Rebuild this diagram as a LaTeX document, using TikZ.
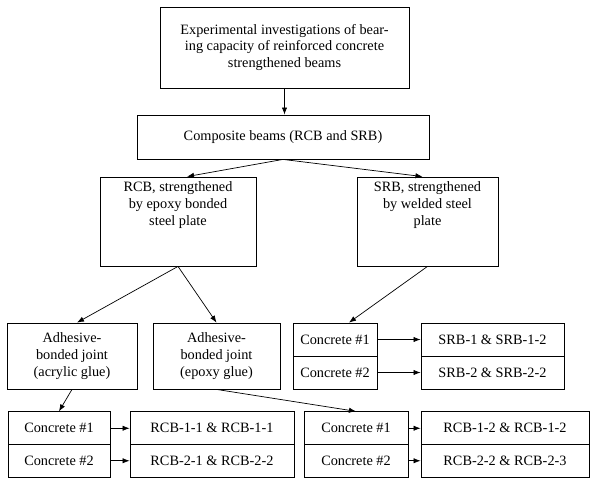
\documentclass[tikz,border=0pt]{standalone}
\usepackage{fontspec}
\setmainfont{Liberation Serif}
\usetikzlibrary{arrows.meta, positioning, calc}

\begin{document}
\begin{tikzpicture}[
  x=0.03cm, y=-0.03cm,
  box/.style={draw, line width=0.7pt, align=center, inner sep=2pt,
    font=\fontsize{12.2}{14.5}\selectfont},
  tall/.style={box, text depth=1.1cm, minimum height=2.67cm},
  cell/.style={box, minimum height=0.99cm},
  arr/.style={-{Latex[length=6pt, width=4.5pt]}, line width=0.6pt}
]
  \useasboundingbox (0,0) rectangle (592,478);

  % Top of the scheme
  \node[box, minimum width=7.47cm, minimum height=2.43cm] (top) at (284.5,47.5)
    {Experimental investigations of bear-\\ing capacity of reinforced concrete\\strengthened beams};
  \node[box, minimum width=8.76cm, minimum height=1.32cm] (comp) at (283,137)
    {Composite beams (RCB and SRB)};
  \draw[arr] (top.south) -- (top.south |- comp.north);

  % Strengthening types
  \node[tall, minimum width=4.68cm] (rcb) at (178,221.5)
    {RCB, strengthened\\by epoxy bonded\\steel plate};
  \node[tall, minimum width=4.23cm] (srb) at (427.5,221.5)
    {SRB, strengthened\\by welded steel\\plate};
  \draw[arr] (comp.south) -- ($(rcb.north)+(9,0)$);
  \draw[arr] (comp.south) -- ($(srb.north)+(-5,0)$);

  % Adhesive joints
  \node[box, minimum width=3.9cm, minimum height=1.98cm] (adhac) at (72,356)
    {Adhesive-\\bonded joint\\(acrylic glue)};
  \node[box, minimum width=3.81cm, minimum height=1.98cm] (adhep) at (216.5,356)
    {Adhesive-\\bonded joint\\(epoxy glue)};
  \draw[arr] (rcb.south) -- ($(adhac.north)+(5,0)$);
  \draw[arr] (rcb.south) -- (adhep.north);

  % SRB specimens
  \foreach \i/\y/\s in {1/339.5/SRB-1 \& SRB-1-2, 2/372.5/SRB-2 \& SRB-2-2} {
    \node[cell, minimum width=2.52cm] (sc\i) at (335,\y) {Concrete \#\i};
    \node[cell, minimum width=4.29cm] (sr\i) at (492.5,\y) {\s};
    \draw[arr] (sc\i) -- (sr\i);
  }
  \draw[arr] (srb.south) -- ($(sc1.north)+(14,0)$);

  % RCB specimens, acrylic glue
  \foreach \i/\y/\s in {1/428.25/RCB-1-1 \& RCB-1-1, 2/460.75/RCB-2-1 \& RCB-2-2} {
    \node[cell, minimum width=3.06cm] (ac\i) at (59,\y) {Concrete \#\i};
    \node[cell, minimum width=4.92cm] (ar\i) at (212,\y) {\s};
    \draw[arr] (ac\i) -- (ar\i);
  }
  \draw[arr] (adhac.south) -- (ac1.north);

  % RCB specimens, epoxy glue
  \foreach \i/\y/\s in {1/428.25/RCB-1-2 \& RCB-1-2, 2/460.75/RCB-2-2 \& RCB-2-3} {
    \node[cell, minimum width=3.12cm] (ec\i) at (356,\y) {Concrete \#\i};
    \node[cell, minimum width=5.04cm] (er\i) at (505,\y) {\s};
    \draw[arr] (ec\i) -- (er\i);
  }
  \draw[arr] (adhep.south) -- (ec1.north);
\end{tikzpicture}
\end{document}
